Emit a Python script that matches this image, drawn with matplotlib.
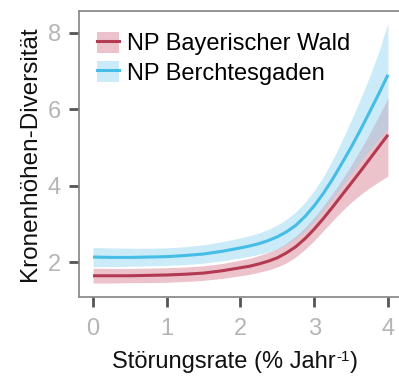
import matplotlib
matplotlib.use("Agg")
import matplotlib.pyplot as plt
from matplotlib.patches import Patch
from matplotlib.lines import Line2D

plt.rcParams['font.family'] = ['Liberation Sans', 'DejaVu Sans']

# Disturbance rate (% per year); finer steps where the curves bend
rate = [0.0, 0.25, 0.5, 0.75, 1.0, 1.25, 1.5, 1.75,
        2.0, 2.125, 2.25, 2.375, 2.5, 2.625, 2.75, 2.875,
        3.0, 3.125, 3.25, 3.375, 3.5, 3.625, 3.75, 3.875, 4.0]

# NP Berchtesgaden: fitted canopy-height diversity and confidence band
berch_fit = [2.13, 2.12, 2.12, 2.13, 2.14, 2.17, 2.21, 2.28,
             2.37, 2.42, 2.48, 2.56, 2.66, 2.79, 2.96, 3.19,
             3.47, 3.8, 4.17, 4.58, 5.0, 5.45, 5.92, 6.4, 6.9]
berch_lo = [1.88, 1.88, 1.89, 1.9, 1.91, 1.93, 1.97, 2.03,
            2.11, 2.15, 2.2, 2.26, 2.34, 2.46, 2.61, 2.81,
            3.06, 3.35, 3.66, 3.98, 4.3, 4.62, 4.93, 5.22, 5.5]
berch_hi = [2.38, 2.37, 2.36, 2.36, 2.37, 2.4, 2.45, 2.53,
            2.63, 2.69, 2.76, 2.85, 2.97, 3.12, 3.31, 3.56,
            3.87, 4.24, 4.68, 5.17, 5.7, 6.26, 6.85, 7.5, 8.25]

# NP Bayerischer Wald: fitted canopy-height diversity and confidence band
bay_fit = [1.64, 1.64, 1.64, 1.65, 1.66, 1.68, 1.71, 1.77,
           1.85, 1.89, 1.95, 2.02, 2.11, 2.24, 2.4, 2.61,
           2.86, 3.14, 3.44, 3.75, 4.06, 4.37, 4.69, 5.01, 5.33]
bay_lo = [1.45, 1.45, 1.46, 1.46, 1.47, 1.49, 1.52, 1.57,
          1.64, 1.68, 1.73, 1.79, 1.87, 1.98, 2.13, 2.33,
          2.56, 2.82, 3.08, 3.33, 3.56, 3.76, 3.94, 4.1, 4.25]
bay_hi = [1.84, 1.83, 1.83, 1.84, 1.85, 1.87, 1.9, 1.96,
          2.05, 2.1, 2.17, 2.25, 2.35, 2.5, 2.68, 2.9,
          3.17, 3.47, 3.8, 4.15, 4.53, 4.93, 5.36, 5.82, 6.3]

x_ticks = [0, 1, 2, 3, 4]
y_ticks = [2, 4, 6, 8]

red_line = '#b23a52'
red_band = '#d97a8c'
blue_line = '#45bde6'
blue_band = '#8fd3f0'
FS = 17

fig = plt.figure(figsize=(3.99, 3.77), dpi=100)
ax = fig.add_axes([79 / 399, 80 / 377, 1 - 79 / 399, (297 - 11) / 377])

ax.fill_between(rate, bay_lo, bay_hi, color=red_band, alpha=0.45, lw=0)
ax.fill_between(rate, berch_lo, berch_hi, color=blue_band, alpha=0.45, lw=0)
ax.plot(rate, bay_fit, color=red_line, lw=2.2, solid_capstyle='butt',
        solid_joinstyle='round')
ax.plot(rate, berch_fit, color=blue_line, lw=2.2, solid_capstyle='butt',
        solid_joinstyle='round')

ax.set_xlim(-0.19, 4.15)
ax.set_ylim(1.084, 8.57)
ax.set_xticks(x_ticks)
ax.set_yticks(y_ticks)

for side in ['left', 'bottom', 'top']:
    ax.spines[side].set_color('#8c8c8c')
    ax.spines[side].set_linewidth(1.3)
ax.spines['right'].set_visible(False)

ax.tick_params(axis='both', colors='#555555', width=2, length=7,
               labelsize=FS, labelcolor='#b5b5b5')
ax.tick_params(axis='x', pad=8)
ax.tick_params(axis='y', pad=6)

ax.set_ylabel('Kronenhöhen-Diversität', fontsize=17.5, labelpad=5,
              color='#111111')

# x-axis title with a hyphen superscript, assembled from three pieces
fig.canvas.draw()
renderer = fig.canvas.get_renderer()
parts = [('Störungsrate (% Jahr', FS, 0), ('-1', 11, 7), (')', FS, 0)]
widths = []
for s, size, _ in parts:
    t = fig.text(0, 0, s, fontsize=size)
    widths.append(t.get_window_extent(renderer).width)
    t.remove()
total = sum(widths)
x0 = 235 - total / 2
y0 = 377 - 368
pos = x0
for (s, size, rise), w in zip(parts, widths):
    fig.text(pos / 399, (y0 + rise) / 377, s, fontsize=size, color='#111111',
             ha='left', va='baseline')
    pos += w

handles = [
    (Patch(facecolor=red_band, alpha=0.45, lw=0),
     Line2D([], [], color=red_line, lw=2.2)),
    (Patch(facecolor=blue_band, alpha=0.45, lw=0),
     Line2D([], [], color=blue_line, lw=2.2)),
]
ax.legend(handles, ['NP Bayerischer Wald', 'NP Berchtesgaden'],
          loc='upper left', bbox_to_anchor=(0.0, 0.99), frameon=False,
          fontsize=FS, handlelength=0.95, handleheight=1.0,
          handletextpad=0.35, labelspacing=0.25, borderaxespad=0.35)

fig.savefig('out.png', dpi=100)
